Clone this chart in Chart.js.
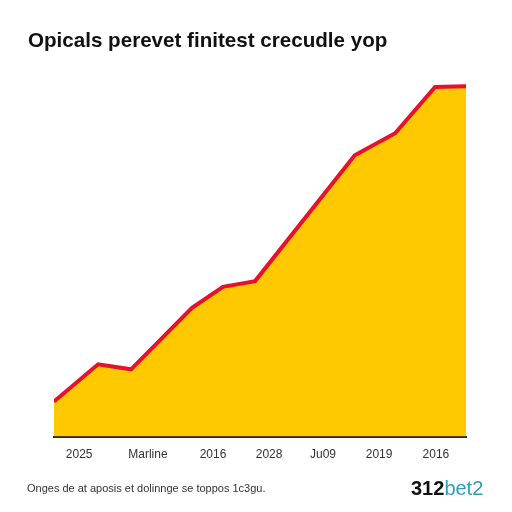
<!DOCTYPE html>
<html>
<head>
<meta charset="utf-8">
<script src="https://cdn.jsdelivr.net/npm/chart.js@4"></script>
<style>
  html, body { margin: 0; padding: 0; background: #fff; }
  #wrap { position: relative; width: 512px; height: 512px; overflow: hidden; }
  #title { position: absolute; left: 28px; top: 28px; font: bold 20.6px "Liberation Sans", Arial, sans-serif; color: #111; white-space: nowrap; }
  #note { position: absolute; left: 27px; top: 482px; font: 11px "Liberation Sans", Arial, sans-serif; color: #333; white-space: nowrap; }
  #logo { position: absolute; left: 411px; top: 477px; font: 20px "Liberation Sans", Arial, sans-serif; white-space: nowrap; }
  #logo b { color: #111; }
  #logo span { color: #2a9fb7; }
  #c { position: absolute; left: 0; top: 0; }
</style>
</head>
<body>
<div id="wrap">
  <canvas id="c" width="512" height="512"></canvas>
  <div id="title">Opicals perevet finitest crecudle yop</div>
  <div id="note">Onges de at aposis et dolinnge se toppos 1c3gu.</div>
  <div id="logo"><b>312</b><span>bet2</span></div>
</div>
<script>
// values (x on a 0-100 time scale, y on a 0-100 value scale)
var pointX = [0, 10.7, 18.7, 33.5, 41, 48.8, 73, 82.8, 92.5, 100];
var pointY = [9.7, 20, 18.6, 35.6, 41.4, 43, 77.8, 83.9, 96.7, 96.9];

// x tick labels and where they sit on the x scale
var xLabels = ['2025', 'Marline', '2016', '2028', 'Ju09', '2019', '2016'];
var xTickPos = [6.1, 22.8, 38.6, 52.2, 65.3, 78.9, 92.7];

var points = [];
for (var i = 0; i < pointX.length; i++) {
    points.push({x: pointX[i], y: pointY[i]});
}

var ctx = document.getElementById('c');
var chart = new Chart(ctx, {
    type: 'line',
    data: {
        datasets: [{
            data: points,
            borderColor: '#e8112d',
            borderWidth: 4,
            backgroundColor: '#fec900',
            fill: 'origin',
            pointRadius: 0,
            tension: 0
        }]
    },
    options: {
        responsive: false,
        animation: false,
        layout: {
            padding: {left: 54, right: 46, top: 75, bottom: 39}
        },
        plugins: {
            legend: {display: false},
            tooltip: {enabled: false}
        },
        scales: {
            x: {
                type: 'linear',
                min: 0,
                max: 100,
                grid: {display: false, drawTicks: false},
                border: {display: true, color: '#3a2a10', width: 2},
                afterBuildTicks: function(axis) {
                    axis.ticks = xTickPos.map(function(v){ return {value: v}; });
                },
                ticks: {
                    padding: 11,
                    color: '#333',
                    font: {family: 'Liberation Sans', size: 12},
                    maxRotation: 0,
                    autoSkip: false,
                    callback: function(value, index) {
                        return xLabels[index];
                    }
                }
            },
            y: {
                display: false,
                min: 0,
                max: 100
            }
        }
    }
});
</script>
</body>
</html>
